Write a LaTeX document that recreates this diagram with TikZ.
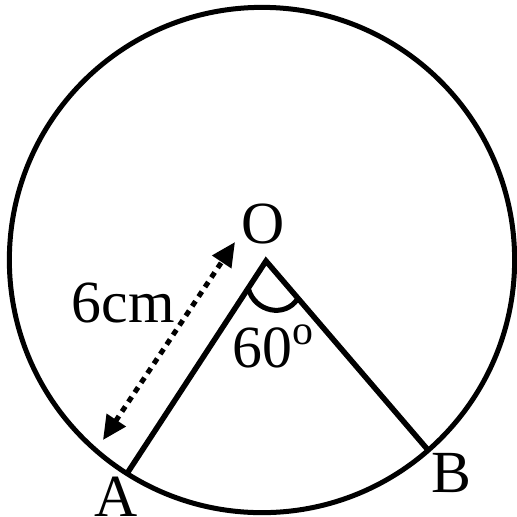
\documentclass[tikz,border=0pt]{standalone}
\usepackage{fontspec}
\setmainfont{Liberation Serif}
\usetikzlibrary{arrows.meta}
\begin{document}
\begin{tikzpicture}[x=0.01cm,y=-0.01cm,
  thickline/.style={line width=0.055cm},
  lbl/.style={font=\fontsize{17pt}{19pt}\selectfont, inner sep=0pt},
  dimarrow/.style={line width=0.05cm, dash pattern=on 0.06cm off 0.055cm,
    {Triangle[length=0.24cm,width=0.22cm]}-{Triangle[length=0.24cm,width=0.22cm]}}]
\useasboundingbox (0,0) rectangle (517,517);
\coordinate (C) at (262,260);
\coordinate (O) at (266,261);
\coordinate (A) at (128,472);
\coordinate (B) at (428,450);
\coordinate (d1) at (103,440);
\coordinate (d2) at (235,242);
\draw[line width=0.05cm] (C) circle[radius=2.525cm];
\draw[thickline, line join=miter] (A) -- (O) -- (B);
\draw[line width=0.05cm] (248.5,289) .. controls (255,312) and (285,318) .. (297.5,299);
\draw[dimarrow] (d1) -- (d2);
\node[lbl, anchor=base] (lO) at (263,243) {O};
\node[lbl, anchor=base west] (l6) at (71,322) {6cm};
\node[lbl, anchor=base west] (l60) at (232,367) {60\textsuperscript{o}};
\node[lbl, anchor=base west] (lA) at (94,516) {A};
\node[lbl, anchor=base west] (lB) at (431,492) {B};
\end{tikzpicture}
\end{document}
